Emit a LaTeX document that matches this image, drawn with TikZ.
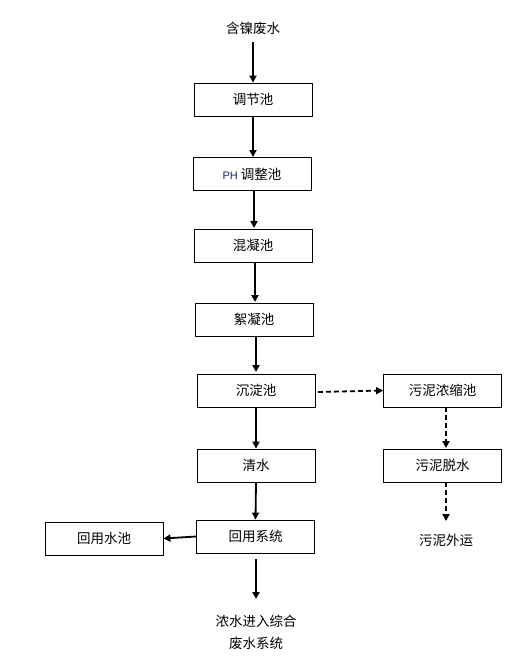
\documentclass[tikz,border=0pt]{standalone}
\usepackage{fontspec}
\newfontfamily\cjk{Noto Sans CJK SC}
\setsansfont{Liberation Sans}
\usetikzlibrary{arrows.meta}
\definecolor{phblue}{RGB}{20,40,100}
\begin{document}
\begin{tikzpicture}[x=1pt,y=-1pt,
  box/.style={draw,line width=0.8pt,minimum width=118pt,minimum height=33pt,inner sep=0pt,font=\cjk\fontsize{13.5}{15}\selectfont},
  lbl/.style={font=\cjk\fontsize{13.5}{15}\selectfont,inner sep=0pt,align=center},
  arr/.style={line width=1.8pt,-{Triangle[length=7pt,width=7pt]}},
  darr/.style={arr,dashed,dash pattern=on 5pt off 3pt}]
\useasboundingbox (0,0) rectangle (532,670);
\node[lbl] (src) at (253,28) {含镍废水};
\node[box] (b1) at (253,99.5) {调节池};
\node[box] (b2) at (252,174) {{\sffamily\fontsize{11}{12}\selectfont\color{phblue}PH} 调整池};
\node[box] (b3) at (253,245.5) {混凝池};
\node[box] (b4) at (254,319.5) {絮凝池};
\node[box] (b5) at (256,390.5) {沉淀池};
\node[box] (s1) at (442.5,390.5) {污泥浓缩池};
\node[box] (b6) at (256,465.5) {清水};
\node[box] (s2) at (442.5,465.5) {污泥脱水};
\node[box] (b7) at (255.5,536.5) {回用系统};
\node[box] (r1) at (104,538.5) {回用水池};
\node[lbl] (s3) at (446,540) {污泥外运};
\node[lbl,font=\cjk\fontsize{13.5}{22}\selectfont] (out) at (256,632) {浓水进入综合\\废水系统};
\coordinate (e1) at (256,599);
\draw[arr] (253,42) -- (b1.north);
\draw[arr] (253,116) -- (253,157);
\draw[arr] (254,190) -- (254,228);
\draw[arr] (255,262) -- (255,302);
\draw[arr] (256,336) -- (256,372);
\draw[arr] (b5.south) -- (b6.north);
\draw[arr] (b6.south) -- (b7.north);
\draw[arr] (b7.west) -- (r1.east);
\draw[arr] (256,559) -- (e1);
\draw[darr] (318,392) -- (s1.west);
\draw[darr] (446,407) -- (446,448);
\draw[darr] (446,482) -- (446,521);
\end{tikzpicture}
\end{document}
